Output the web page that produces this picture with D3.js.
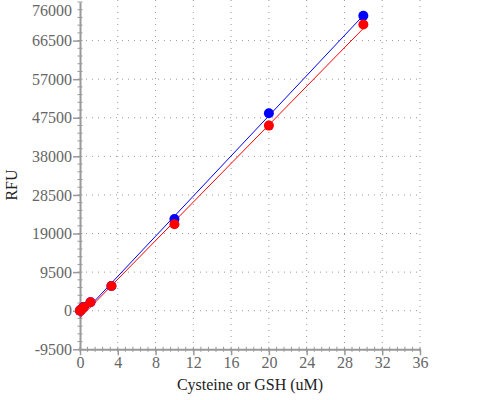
<!DOCTYPE html>
<html>
<head>
<meta charset="utf-8">
<script src="https://cdn.jsdelivr.net/npm/d3@7"></script>
<style>
	body { margin: 0; background: #fff; }
</style>
</head>
<body>
<div id="chart"></div>
<script>
// values
var concentrations = [0, 0.041, 0.123, 0.37, 1.11, 3.33, 10, 20, 30];
var cysteineRfu = [0, 150, 350, 900, 2100, 6100, 22550, 48600, 72600];
var gshRfu = [0, 120, 300, 840, 2065, 6070, 21300, 45570, 70480];

// fitted lines, end points
var fitX = [0, 30];
var cysteineFit = [-1430, 72700];
var gshFit = [-1750, 69500];

var xTicks = [0, 4, 8, 12, 16, 20, 24, 28, 32, 36];
var yTicks = [-9500, 0, 9500, 19000, 28500, 38000, 47500, 57000, 66500, 76000];

(function(){
	var width = 500,
	height = 400;
	var serif = "'Liberation Serif', 'DejaVu Serif', serif";

	var svg = d3.select("#chart")
	.append("svg")
	.attr("width", width)
	.attr("height", height)

	var x = d3.scaleLinear().domain([0, 36]).range([80, 420]);
	var y = d3.scaleLinear().domain([-9500, 76000]).range([349.3, 2]);

	// grid
	svg.selectAll(".vgrid")
	.data(xTicks.slice(1))
	.enter().append("line")
	.attr("class", "vgrid")
	.attr("x1", function(d){ return x(d); })
	.attr("x2", function(d){ return x(d); })
	.attr("y1", 0)
	.attr("y2", y(-9500))
	.style("stroke", "#999")
	.style("stroke-dasharray", "1,5")

	svg.selectAll(".hgrid")
	.data(yTicks.slice(1, -1))
	.enter().append("line")
	.attr("class", "hgrid")
	.attr("x1", x(0))
	.attr("x2", x(36))
	.attr("y1", function(d){ return y(d); })
	.attr("y2", function(d){ return y(d); })
	.style("stroke", "#999")
	.style("stroke-dasharray", "1,5")

	// minor ticks
	var xMinor = d3.range(0, 36.01, 0.8);
	var yMinor = d3.range(-9500, 76001, 1900);

	svg.selectAll(".xminor")
	.data(xMinor)
	.enter().append("line")
	.attr("x1", function(d){ return x(d); })
	.attr("x2", function(d){ return x(d); })
	.attr("y1", y(-9500) - 2.5)
	.attr("y2", y(-9500) + 2.5)
	.style("stroke", "#999")

	svg.selectAll(".yminor")
	.data(yMinor)
	.enter().append("line")
	.attr("x1", x(0) - 2.5)
	.attr("x2", x(0) + 2.5)
	.attr("y1", function(d){ return y(d); })
	.attr("y2", function(d){ return y(d); })
	.style("stroke", "#999")

	// axes
	var fmt = function(d){ return String(d); };

	var xAxis = svg.append("g")
	.attr("transform", "translate(0," + y(-9500) + ")")
	.call(d3.axisBottom(x).tickValues(xTicks).tickFormat(fmt).tickSize(6).tickSizeOuter(0))

	var yAxis = svg.append("g")
	.attr("transform", "translate(" + x(0) + ",0)")
	.call(d3.axisLeft(y).tickValues(yTicks).tickFormat(fmt).tickSize(7).tickSizeOuter(0))

	xAxis.attr("font-family", null)
	yAxis.attr("font-family", null)
	xAxis.select(".domain").attr("stroke", "#999").attr("stroke-width", 2)
	yAxis.select(".domain").attr("stroke", "#999").attr("stroke-width", 2)
	xAxis.selectAll(".tick line").attr("stroke", "#999").attr("stroke-width", 1.5)
	yAxis.selectAll(".tick line").attr("stroke", "#999").attr("stroke-width", 1.5)

	xAxis.selectAll("text")
	.style("font-family", serif)
	.style("font-size", "16px")
	.attr("fill", "#666")
	.attr("y", 7)

	yAxis.selectAll("text")
	.style("font-family", serif)
	.style("font-size", "16px")
	.attr("fill", "#666")
	.attr("x", -8)

	// top label is pushed inside the window
	yAxis.selectAll(".tick")
	.filter(function(d){ return d == 76000; })
	.select("text")
	.attr("y", 8)
	yAxis.selectAll(".tick")
	.filter(function(d){ return d == 76000; })
	.select("line").remove()

	// titles
	svg.append("text")
	.attr("x", 250)
	.attr("y", 390)
	.attr("text-anchor", "middle")
	.style("font-family", serif)
	.style("font-size", "16px")
	.attr("fill", "#222")
	.text("Cysteine or GSH (uM)")

	svg.append("text")
	.attr("transform", "translate(17,185) rotate(-90)")
	.attr("text-anchor", "middle")
	.style("font-family", serif)
	.style("font-size", "16px")
	.attr("fill", "#222")
	.text("RFU")

	// fit lines
	var fits = [[cysteineFit, "#0000ff"], [gshFit, "#ff0000"]];
	svg.selectAll(".fit")
	.data(fits)
	.enter().append("line")
	.attr("class", "fit")
	.attr("x1", x(fitX[0]))
	.attr("x2", x(fitX[1]))
	.attr("y1", function(d){ return y(d[0][0]); })
	.attr("y2", function(d){ return y(d[0][1]); })
	.style("stroke", function(d){ return d[1]; })
	.style("stroke-width", 1)

	// points
	var series = [[cysteineRfu, "#0000ff"], [gshRfu, "#ff0000"]];
	series.forEach(function(s){
		svg.selectAll(null)
		.data(concentrations)
		.enter().append("circle")
		.attr("cx", function(d){ return x(d); })
		.attr("cy", function(d, i){ return y(s[0][i]); })
		.attr("r", 5)
		.attr("fill", s[1])
	})

})();
</script>
</body>
</html>
